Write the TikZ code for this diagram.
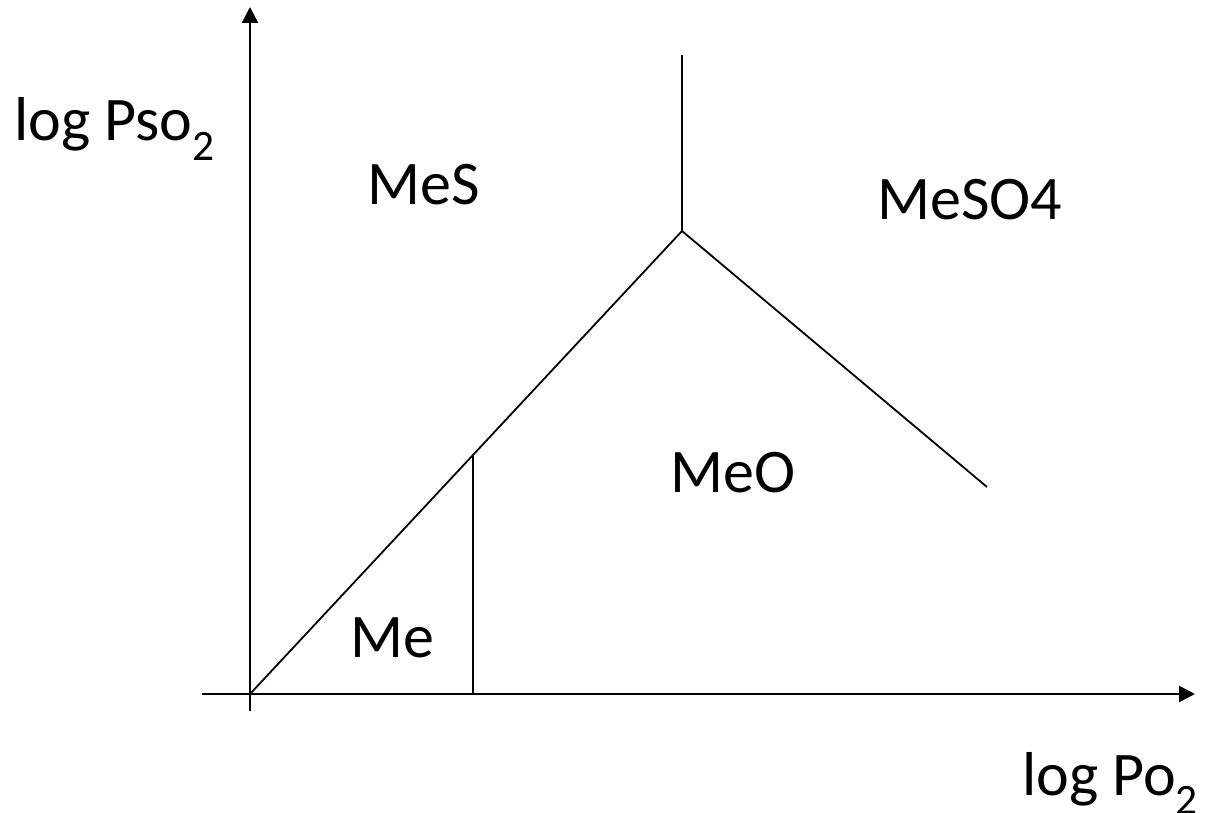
\documentclass[tikz,border=0pt]{standalone}
\usepackage{fontspec}
\setmainfont{Carlito}
\usetikzlibrary{arrows.meta}
\begin{document}
\begin{tikzpicture}[x=1pt,y=-1pt,
  axis/.style={line width=2.4pt,-{Triangle[length=16pt,width=16pt]}},
  bound/.style={line width=1.8pt},
  lbl/.style={anchor=base west,inner sep=0pt,font=\fontsize{62}{66}\selectfont}]
\useasboundingbox (0,0) rectangle (1205,813);
\coordinate (o) at (250,694);
\coordinate (ybot) at (250,711);
\coordinate (ytop) at (250,7);
\coordinate (xl) at (202,694);
\coordinate (xr) at (1195,694);
\coordinate (t) at (682,231);
\coordinate (ttop) at (682,55);
\coordinate (r) at (987,487);
\coordinate (m) at (473,455);
\coordinate (mb) at (473,694);
\draw[axis] (ybot) -- (ytop);
\draw[axis] (xl) -- (xr);
\draw[bound] (o) -- (t) -- (r);
\draw[bound] (t) -- (ttop);
\draw[bound] (m) -- (mb);
\node[lbl] (ly) at (14,141) {log Pso\textsubscript{2}};
\node[lbl] (mes) at (367,205) {MeS};
\node[lbl] (meso) at (877,220) {MeSO4};
\node[lbl] (meo) at (670,492) {MeO};
\node[lbl] (me) at (350,657) {Me};
\node[lbl] (lx) at (1022,795) {log Po\textsubscript{2}};
\end{tikzpicture}
\end{document}
